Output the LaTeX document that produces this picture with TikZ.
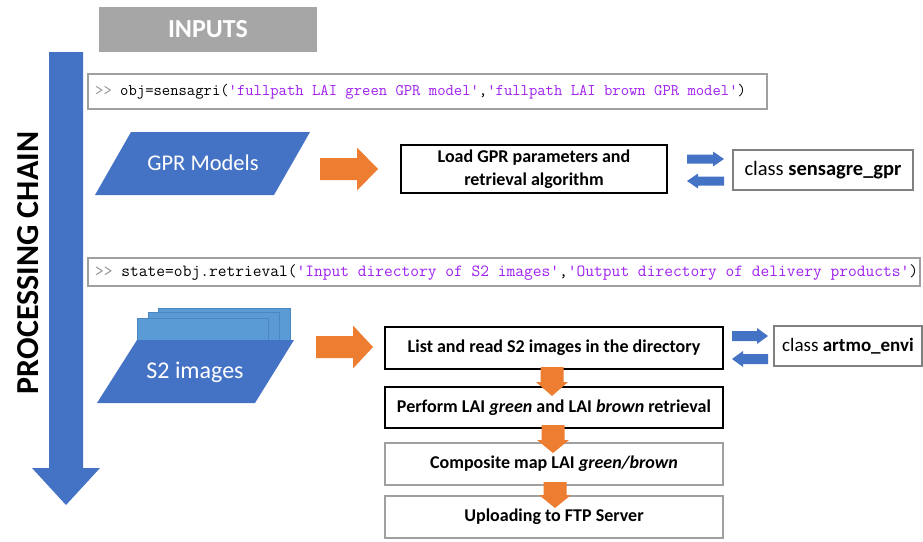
\documentclass[tikz,border=0pt]{standalone}
\usepackage{fontspec}
\setmainfont{Carlito}
\definecolor{mblue}{HTML}{4472C4}
\definecolor{lblue}{HTML}{5B9BD5}
\definecolor{lbluedark}{HTML}{4A86C0}
\definecolor{morange}{HTML}{ED7D31}
\definecolor{mgrey}{HTML}{A6A6A6}
\definecolor{bordergrey}{HTML}{A0A0A0}
\definecolor{codepurple}{HTML}{A020F0}
\definecolor{promptgrey}{HTML}{909090}
% horizontal block arrow: colour, x start, x head base, x tip, y centre, half shaft, half head
\newcommand\harr[7]{\fill[#1] (#2,#5-#6) -- (#3,#5-#6) -- (#3,#5-#7) -- (#4,#5) -- (#3,#5+#7) -- (#3,#5+#6) -- (#2,#5+#6) -- cycle;}
% vertical block arrow: colour, x centre, y start, y head base, y tip, half shaft, half head
\newcommand\varr[7]{\fill[#1] (#2-#6,#3) -- (#2+#6,#3) -- (#2+#6,#4) -- (#2+#7,#4) -- (#2,#5) -- (#2-#7,#4) -- (#2-#6,#4) -- cycle;}
\begin{document}
\begin{tikzpicture}[x=1pt,y=-1pt,
  stepbox/.style={draw=black, line width=1.1pt, fill=white, inner sep=0pt, minimum width=338pt, minimum height=42pt, font=\bfseries\fontsize{18}{22}\selectfont},
  lightbox/.style={stepbox, draw=bordergrey},
  codebox/.style={draw=bordergrey, line width=1.4pt, fill=white, inner sep=0pt},
  classbox/.style={draw=gray, line width=1.1pt, fill=white, inner sep=0pt, minimum height=40pt},
  codetext/.style={anchor=west, inner sep=0pt},
  whitetext/.style={text=white, inner sep=0pt}]
\useasboundingbox (0,0) rectangle (923,541);
\fill[white] (0,0) rectangle (923,541);

% INPUTS
\node[fill=mgrey, minimum width=218pt, minimum height=45pt, inner sep=0pt, text=white, font=\bfseries\fontsize{26}{30}\selectfont] (inputs) at (208,29.5) {INPUTS};

% processing chain arrow
\fill[mblue] (49,52) -- (83,52) -- (83,468) -- (100,468) -- (66,505) -- (32,468) -- (49,468) -- cycle;
\node[rotate=90, inner sep=0pt, font=\bfseries\fontsize{32}{36}\selectfont] (chain) at (28,263) {PROCESSING CHAIN};

% code line 1
\node[codebox, minimum width=679pt, minimum height=35pt] (code1) at (427.5,91.5) {};
\node[codetext, font=\ttfamily\fontsize{16.2}{18}\selectfont] (code1t) at (95,92)
  {\textcolor{promptgrey}{>>} obj=sensagri(\textcolor{codepurple}{'fullpath LAI green GPR model'},\textcolor{codepurple}{'fullpath LAI brown GPR model'})};

% GPR models
\fill[mblue] (95,195) -- (131,132) -- (310,132) -- (274,195) -- cycle;
\node[whitetext, font=\fontsize{22.5}{26}\selectfont] (gpr) at (203,163) {GPR Models};

\harr{morange}{320}{357}{378}{169}{11}{21.5}

\node[stepbox, minimum width=266pt, minimum height=48pt, align=center, font=\bfseries\fontsize{18}{23}\selectfont] (load) at (534,169) {Load GPR parameters and\\retrieval algorithm};

\harr{mblue}{687}{713}{724}{159}{4.5}{7.5}
\harr{mblue}{724}{698}{687}{181}{4.5}{7.5}

\node[classbox, minimum width=180pt, font=\fontsize{20.5}{24}\selectfont] (gprclass) at (823,170) {class \textbf{sensagre\_gpr}};

% code line 2
\node[codebox, minimum width=832pt, minimum height=28pt] (code2) at (504,272) {};
\node[codetext, font=\ttfamily\fontsize{17}{18}\selectfont] (code2t) at (95,273)
  {\textcolor{promptgrey}{>>} state=obj.retrieval(\textcolor{codepurple}{'Input directory of S2 images'},\textcolor{codepurple}{'Output directory of delivery products'})};

% S2 images stack
\filldraw[fill=lblue, draw=lbluedark, line width=0.6pt] (158,308) rectangle (290,341);
\filldraw[fill=lblue, draw=lbluedark, line width=0.6pt] (148,312) rectangle (279,341);
\filldraw[fill=lblue, draw=lbluedark, line width=0.6pt] (137,318) rectangle (268,341);
\fill[mblue] (97,403) -- (137,340) -- (294,340) -- (255,403) -- cycle;
\node[whitetext, font=\fontsize{24}{28}\selectfont] (s2) at (195,372) {S2 images};

\harr{morange}{316}{353}{373}{347}{11}{21.5}

% processing steps
\node[stepbox] (list) at (554,348) {List and read S2 images in the directory};
\node[stepbox, minimum height=41pt] (perform) at (554,407.5) {Perform LAI \textit{green} and LAI \textit{brown} retrieval};
\node[lightbox] (composite) at (554,464) {Composite map LAI \textit{green/brown}};
\node[lightbox] (upload) at (554,517) {Uploading to FTP Server};

\varr{morange}{552}{367}{382}{396}{11.5}{16}
\varr{morange}{553}{425}{440}{453}{11.5}{16}
\varr{morange}{555}{482}{495}{508}{11.5}{16}

\harr{mblue}{732}{757}{768}{336}{5}{8}
\harr{mblue}{768}{743}{732}{359}{5}{8}

\node[classbox, minimum width=148pt, font=\fontsize{19}{23}\selectfont] (envi) at (848,346) {class \textbf{artmo\_envi}};
\end{tikzpicture}
\end{document}
